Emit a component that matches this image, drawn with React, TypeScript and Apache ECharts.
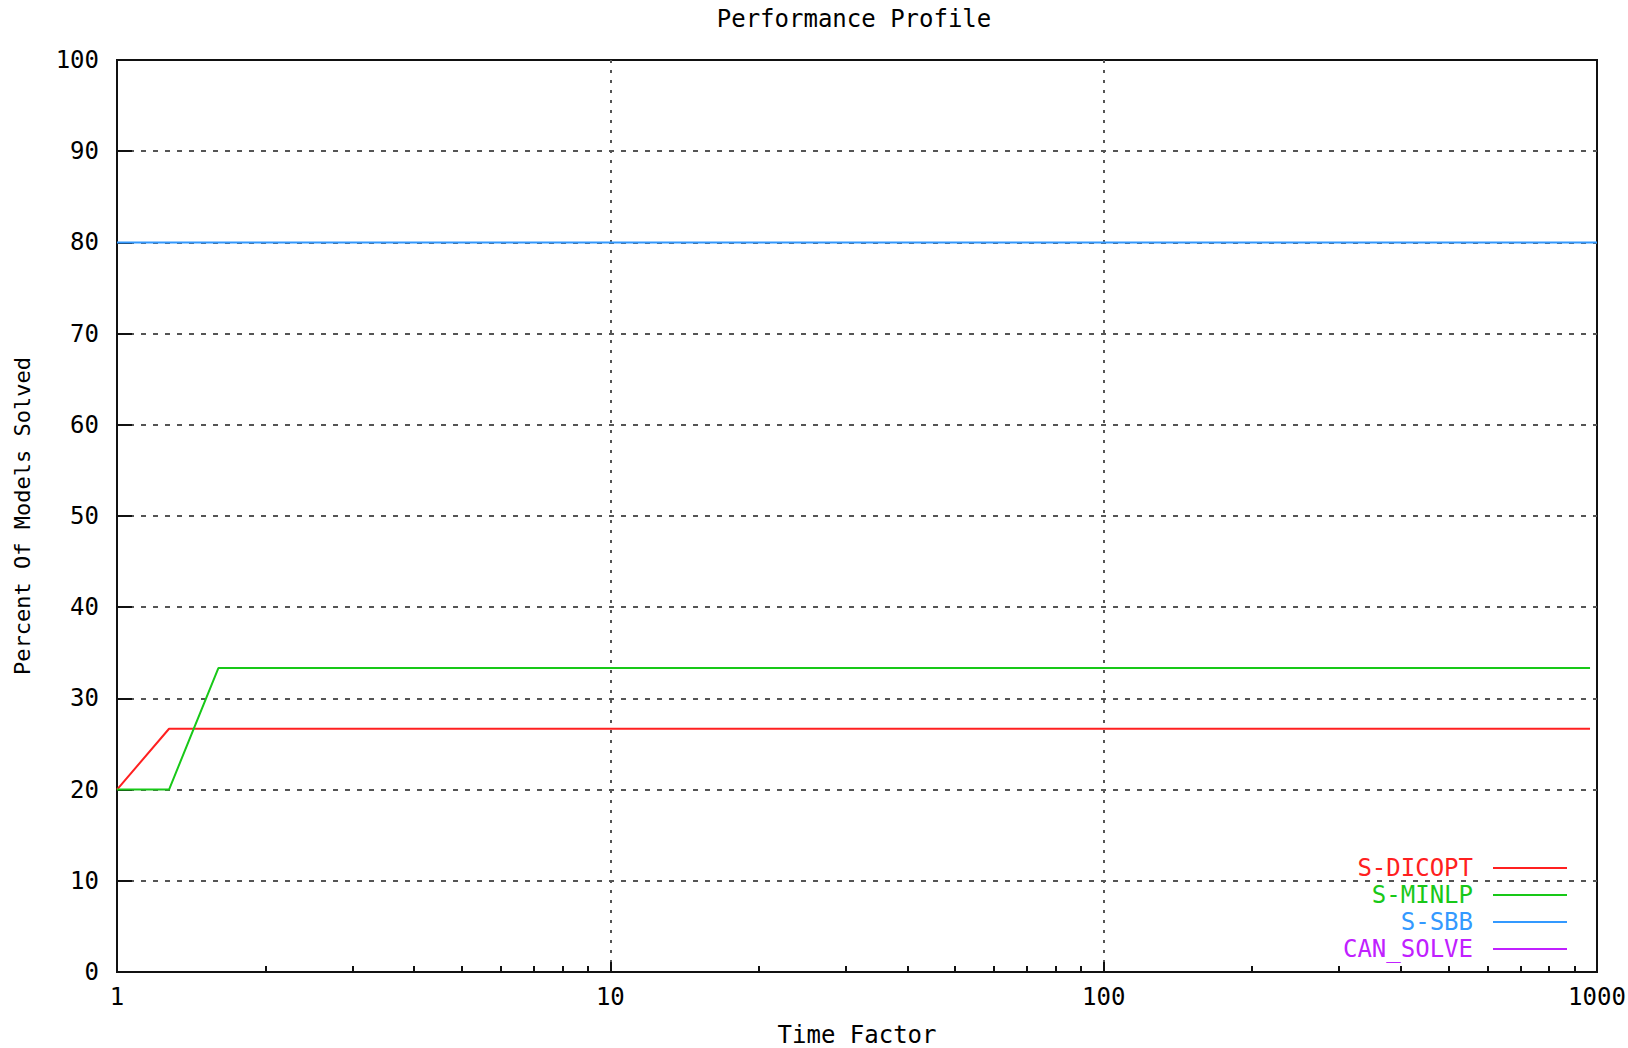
import React, { useEffect, useRef } from "react";
import * as echarts from "echarts";

const titleText = "Performance Profile";
const xName = "Time Factor";
const yName = "Percent Of Models Solved";
const seriesNames = ["S-DICOPT", "S-MINLP", "S-SBB", "CAN_SOLVE"];
const seriesColors = ["#ff2020", "#18c818", "#3399ff", "#c020ff"];
const dicopt: number[][] = [[1, 20], [1.275, 26.67], [968, 26.67]];
const minlp: number[][] = [[1, 20], [1.275, 20], [1.605, 33.33], [968, 33.33]];
const sbb: number[][] = [[1, 80], [1000, 80]];
const canSolve: number[][] = [];
const seriesData = [dicopt, minlp, sbb, canSolve];
const majorTicks = [1, 10, 100, 1000];
const minorTicks = [2, 3, 4, 5, 6, 7, 8, 9, 20, 30, 40, 50, 60, 70, 80, 90, 200, 300, 400, 500, 600, 700, 800, 900];

const FONT = "DejaVu Sans Mono";
const FS = 24;

export default function App() {
  const ref = useRef<HTMLDivElement>(null);
  useEffect(() => {
    if (!ref.current) return;
    const chart = echarts.init(ref.current, undefined, { renderer: "svg" });
    chart.setOption({
      animation: false,
      backgroundColor: "#ffffff",
      title: {
        text: titleText,
        left: 849,
        textAlign: "center",
        top: 2,
        textStyle: { fontFamily: FONT, fontSize: FS, fontWeight: "normal", color: "#000" },
      },
      grid: {
        left: 117,
        right: 31,
        top: 60,
        bottom: 76,
        containLabel: false,
        outerBoundsMode: "none",
        show: true,
        borderColor: "#111",
        borderWidth: 2,
        backgroundColor: "transparent",
      },
      legend: {
        orient: "vertical",
        align: "right",
        right: 61,
        bottom: 87,
        padding: 0,
        itemGap: 3,
        itemWidth: 74,
        itemHeight: 2,
        icon: "rect",
        textStyle: { fontFamily: FONT, fontSize: FS, lineHeight: 20, padding: [0, 15, 0, 0] },
        data: seriesNames.map((n, i) => ({ name: n, textStyle: { color: seriesColors[i] } })),
      },
      xAxis: [
        {
          type: "log",
          logBase: 10,
          min: 1,
          max: 1000,
          name: xName,
          nameLocation: "middle",
          nameGap: 54,
          nameTextStyle: { fontFamily: FONT, fontSize: FS, lineHeight: 18, color: "#000" },
          axisLine: { show: true, lineStyle: { color: "#111", width: 2 } },
          axisTick: { show: true, inside: true, length: 10, customValues: majorTicks, lineStyle: { color: "#111", width: 2 } },
          axisLabel: {
            fontFamily: FONT,
            fontSize: FS,
            color: "#000",
            margin: 13,
            customValues: majorTicks,
            formatter: (v: number) => String(Math.round(v)),
          },
          splitLine: { show: true, showMinLine: false, showMaxLine: false, lineStyle: { color: "#555", width: 2, type: [3, 7] } },
          minorTick: { show: false },
        },
        {
          type: "log",
          logBase: 10,
          min: 1,
          max: 1000,
          position: "bottom",
          axisLine: { show: false },
          axisTick: { show: true, inside: true, length: 6, customValues: minorTicks, lineStyle: { color: "#111", width: 2 } },
          axisLabel: { show: false },
          splitLine: { show: false },
        },
      ],
      yAxis: {
        type: "value",
        min: 0,
        max: 100,
        interval: 10,
        name: yName,
        nameLocation: "middle",
        nameRotate: 90,
        nameGap: 84,
        nameTextStyle: { fontFamily: FONT, fontSize: 22, color: "#000" },
        axisLine: { show: true, lineStyle: { color: "#111", width: 2 } },
        axisTick: { show: true, inside: true, length: 15, lineStyle: { color: "#111", width: 2 } },
        axisLabel: { fontFamily: FONT, fontSize: FS, color: "#000", margin: 18 },
        splitLine: { show: true, showMinLine: false, showMaxLine: false, lineStyle: { color: "#555", width: 2, type: [5, 7] } },
      },
      series: seriesNames.map((n, i) => ({
        name: n,
        type: "line",
        xAxisIndex: 0,
        data: seriesData[i],
        showSymbol: false,
        symbol: "none",
        color: seriesColors[i],
        lineStyle: { color: seriesColors[i], width: 2 },
      })),
    });
    return () => chart.dispose();
  }, []);
  return (
    <div
      ref={ref}
      style={{ position: "fixed", left: 0, top: 0, width: 1628, height: 1048 }}
    />
  );
}
